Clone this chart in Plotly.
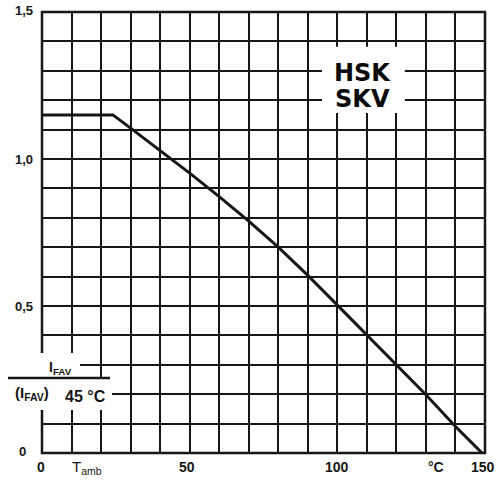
import plotly.graph_objects as go

# Data
temp = [0, 24, 30, 40, 50, 60, 70, 80, 90, 100, 110, 120, 130, 140, 149]
ratio = [1.15, 1.15, 1.105, 1.03, 0.952, 0.872, 0.789, 0.700, 0.604, 0.503, 0.401, 0.300, 0.198, 0.090, 0.0]

# label positions (paper fractions of the plot area)
y_tick_pos = [1.0023, 0.6644, 0.3333, 0.0023]
y_tick_text = ["1,5", "1,0", "0,5", "0"]
x_tick_pos = [-0.002, 0.3284, 0.6648, 0.9966]
x_tick_text = ["0", "50", "100", "150"]
x_unit_label = "°C"
x_axis_label = "T<sub>amb</sub>"
series_lines = ["HSK", "SKV"]

INK = "#161616"
FONT = "Liberation Sans"

fig = go.Figure()
fig.add_trace(go.Scatter(x=temp, y=ratio, mode="lines",
                         line=dict(color=INK, width=3), showlegend=False,
                         hoverinfo="skip"))

fig.update_layout(
    width=497, height=484,
    margin=dict(l=42, r=12, t=12, b=31),
    paper_bgcolor="white", plot_bgcolor="white",
    font=dict(family=FONT, size=13, color=INK, weight="bold"),
    xaxis=dict(range=[0, 150], dtick=10, tick0=0, showgrid=True,
               gridcolor=INK, gridwidth=2, showticklabels=False,
               zeroline=False, showline=False, ticks=""),
    yaxis=dict(range=[0, 1.5], dtick=0.1, tick0=0, showgrid=True,
               gridcolor=INK, gridwidth=2, showticklabels=False,
               zeroline=False, showline=False, ticks=""),
)

# frame
fig.add_shape(type="rect", xref="paper", yref="paper", x0=0, x1=1, y0=0, y1=1,
              line=dict(color=INK, width=2.5), layer="above")

# white gaps behind texts
fig.add_shape(type="rect", xref="paper", yref="paper", x0=0.632, x1=0.819, y0=0.771, y1=0.921,
              fillcolor="white", line=dict(width=0), layer="above")
fig.add_shape(type="rect", xref="paper", yref="paper", x0=-0.08, x1=0.0858, y0=0.170, y1=0.2268,
              fillcolor="white", line=dict(width=0), layer="above")
fig.add_shape(type="rect", xref="paper", yref="paper", x0=-0.08, x1=0.158, y0=0.0975, y1=0.171,
              fillcolor="white", line=dict(width=0), layer="above")
# fraction line
fig.add_shape(type="line", xref="paper", yref="paper", x0=-0.0767, x1=0.1535, y0=0.170, y1=0.170,
              line=dict(color=INK, width=2.5), layer="above")

ann = []
# y tick labels
for v, t in zip(y_tick_pos, y_tick_text):
    xr = -0.031 if t == "0" else -0.0158
    ann.append(dict(x=xr, xref="paper", y=v, yref="paper", text=t, showarrow=False,
                    xanchor="right", yanchor="middle", font=dict(size=13)))
# x tick labels
for v, t in zip(x_tick_pos, x_tick_text):
    ann.append(dict(x=v, xref="paper", y=-0.032, yref="paper", text=t, showarrow=False,
                    xanchor="center", yanchor="middle", font=dict(size=14)))
ann.append(dict(x=0.1027, xref="paper", y=-0.034, yref="paper", text=x_axis_label, showarrow=False,
                xanchor="center", yanchor="middle", font=dict(size=15, weight="normal")))
ann.append(dict(x=0.8905, xref="paper", y=-0.032, yref="paper", text=x_unit_label, showarrow=False,
                xanchor="center", yanchor="middle", font=dict(size=14)))
# series label
for t, yy in zip(series_lines, [0.8628, 0.8027]):
    ann.append(dict(x=0.7246, xref="paper", y=yy, yref="paper", text=t, showarrow=False,
                    xanchor="center", yanchor="middle",
                    font=dict(size=24, family="DejaVu Sans", color="#0a0a0a", weight="bold")))
# fraction label
ann.append(dict(x=0.041, xref="paper", y=0.193, yref="paper", text="I<sub>FAV</sub>", showarrow=False,
                xanchor="center", yanchor="middle", font=dict(size=14)))
ann.append(dict(x=-0.0237, xref="paper", y=0.136, yref="paper", text="(I<sub>FAV</sub>)",
                showarrow=False, xanchor="center", yanchor="middle", font=dict(size=15)))
ann.append(dict(x=0.0993, xref="paper", y=0.129, yref="paper", text="45 °C",
                showarrow=False, xanchor="center", yanchor="middle", font=dict(size=16)))

fig.update_layout(annotations=ann)
fig.write_html("out.html", config={"displayModeBar": False},
               post_script="document.body.style.margin='0';")
